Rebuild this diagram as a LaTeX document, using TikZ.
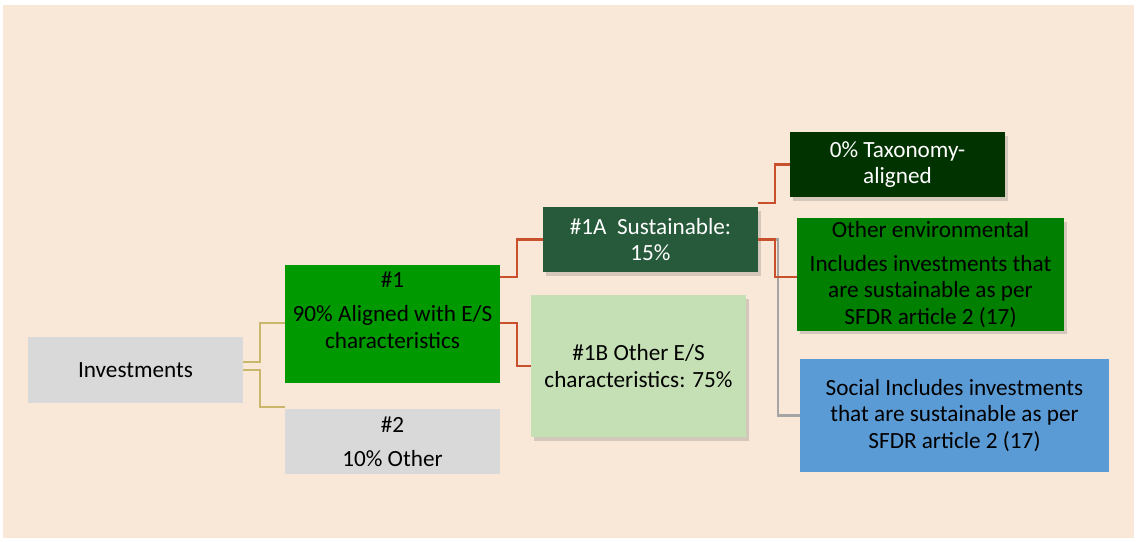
\documentclass[tikz,border=0pt]{standalone}
\usepackage{fontspec}
\setmainfont{Carlito}
\usetikzlibrary{calc,shadows}

\definecolor{bgpeach}{HTML}{F9E8D8}
\definecolor{boxgray}{HTML}{D9D9D9}
\definecolor{alignedgreen}{HTML}{009900}
\definecolor{sustgreen}{HTML}{265A3A}
\definecolor{taxgreen}{HTML}{013300}
\definecolor{envgreen}{HTML}{007F00}
\definecolor{otherlight}{HTML}{C5E0B4}
\definecolor{socialblue}{HTML}{5B9BD5}
\definecolor{tanline}{HTML}{C9B86C}
\definecolor{redline}{HTML}{C8502D}
\definecolor{grayline}{HTML}{A5A5A5}

\begin{document}
\begin{tikzpicture}[x=0.025cm, y=-0.025cm,
    box/.style={rectangle, inner sep=2pt, align=center,
        font=\fontsize{16.5}{19}\selectfont, text=black},
    shade/.style={drop shadow={opacity=0.3, shadow xshift=2pt, shadow yshift=-2.5pt}},
    tanedge/.style={draw=tanline, line width=1.5pt},
    rededge/.style={draw=redline, line width=1.5pt},
    grayedge/.style={draw=grayline, line width=1.5pt}
]
    \useasboundingbox (0,0) rectangle (1136,541);
    \fill[bgpeach] (3,5) rectangle (1134,538);

    \node[box, fill=boxgray, minimum width=5.375cm, minimum height=1.65cm] (inv) at (135.5,370) {Investments};
    \node[box, fill=alignedgreen, minimum width=5.375cm, minimum height=2.95cm, text depth=20pt] (g1) at (392.5,324)
        {\#1\\[5pt]90\% Aligned with E/S\\characteristics};
    \node[box, fill=boxgray, minimum width=5.375cm, minimum height=1.625cm] (g2) at (392.5,441.5)
        {\#2\\[5pt]10\% Other};
    \node[box, shade, fill=sustgreen, text=white, minimum width=5.375cm, minimum height=1.625cm] (g1a) at (650.5,239.5)
        {\#1A\ \ Sustainable:\\15\%};
    \node[box, shade, fill=otherlight, minimum width=5.375cm, minimum height=3.55cm] (g1b) at (638.5,366)
        {\#1B Other E/S\\characteristics: 75\%};
    \node[box, shade, fill=taxgreen, text=white, minimum width=5.375cm, minimum height=1.625cm] (tax) at (897.5,164.5)
        {0\% Taxonomy-\\aligned};
    \node[box, shade, fill=envgreen, minimum width=6.675cm, minimum height=2.775cm] (env) at (930.5,274.5)
        {Other environmental\\[5pt]Includes investments that\\are sustainable as per\\SFDR article 2 (17)};
    \node[box, fill=socialblue, minimum width=7.725cm, minimum height=2.825cm] (soc) at (954.5,415.5)
        {Social Includes investments\\that are sustainable as per\\SFDR article 2 (17)};

    \draw[tanedge] ($(inv.east)+(0,-8)$) -- ++(17,0) |- ($(g1.west)+(0,-1)$);
    \draw[tanedge] (inv.east) -- ++(17,0) |- ($(g2.north west)+(0,-2)$);
    \draw[rededge] ($(g1.north east)+(0,12)$) -- ++(17,0) |- (g1a.west);
    \draw[rededge] ($(g1.east)+(0,-1)$) -- ++(17,0) |- (g1b.west);
    \draw[grayedge] (g1a.east) -- ++(20,0) |- (soc.west);
    \draw[rededge] ($(g1a.north east)+(0,-4)$) -- ++(17,0) |- (tax.west);
    \draw[rededge] (g1a.east) -- ++(17,0) |- ($(env.west)+(0,2.5)$);
\end{tikzpicture}
\end{document}
